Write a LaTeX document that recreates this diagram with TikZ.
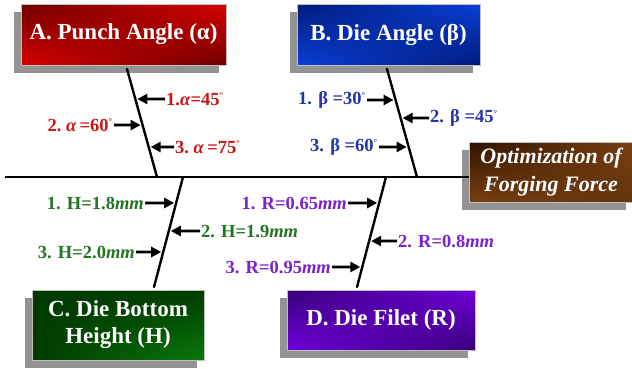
\documentclass[tikz,border=0pt]{standalone}
\usepackage{fontspec}
\setmainfont{Liberation Serif}
\usetikzlibrary{arrows.meta,shadows,calc,shadings}
\definecolor{redD}{HTML}{6E0000}\definecolor{redB}{HTML}{D80000}
\definecolor{bluD}{HTML}{001A7A}\definecolor{bluB}{HTML}{0A40D8}
\definecolor{grnD}{HTML}{003A00}\definecolor{grnB}{HTML}{0A7A0A}
\definecolor{purD}{HTML}{380078}\definecolor{purB}{HTML}{7000DC}
\definecolor{brnD}{HTML}{2E1200}\definecolor{brnB}{HTML}{7A4010}
\definecolor{redT}{HTML}{CC1515}\definecolor{bluT}{HTML}{2535A8}
\definecolor{grnT}{HTML}{237523}\definecolor{purT}{HTML}{7A22CC}
\tikzset{
  catbox/.style 2 args={draw=white!75!black, line width=0.8pt,
    upper left=#1, lower right=#1, upper right=#2, lower left=#2,
    drop shadow={shadow xshift=-7pt, shadow yshift=-8pt, fill=gray!85, opacity=1},
    text=white, font=\bfseries\fontsize{23}{27}\selectfont, align=center, inner sep=0pt},
  bone/.style={line width=2.4pt, line cap=round},
  lbl/.style={font=\bfseries\fontsize{18.5}{21}\selectfont, inner sep=1pt},
  arr/.style={line width=2.8pt, -{Triangle[length=10pt,width=10pt]}}
}
\newcommand{\dg}{\textsuperscript{\fontsize{9}{9}\selectfont °}}
\begin{document}
\begin{tikzpicture}[x=1pt,y=-1pt]
\useasboundingbox (0,0) rectangle (632,368);
% boxes
\node[catbox={redD}{redB}, minimum width=205pt, minimum height=61pt] (A) at (123.5,34.5) {A. Punch Angle (α)};
\node[catbox={bluD}{bluB}, minimum width=183pt, minimum height=61pt] (B) at (388.5,34.5) {B. Die Angle (β)};
\node[catbox={grnB}{grnD}, upper left=grnD, minimum width=172pt, minimum height=70pt] (C) at (118,325) {C. Die Bottom\\Height (H)};
\node[catbox={purD}{purB}, minimum width=188pt, minimum height=60pt] (D) at (381,320) {D. Die Filet (R)};
\node[catbox={brnD}{brnB}, lower right=brnB!80!black, font=\bfseries\itshape\fontsize{22}{28}\selectfont, minimum width=164pt, minimum height=60pt] (O) at (551,172) {Optimization of\\Forging Force};
% spine
\coordinate (S0) at (5,177);
\draw[line width=2pt] (S0) -- (S0 -| O.west);
% bones
\coordinate (a1) at (127,69); \coordinate (a2) at (157,177);
\coordinate (b1) at (387,69); \coordinate (b2) at (417,177);
\coordinate (c1) at (183,177); \coordinate (c2) at (154,287);
\coordinate (d1) at (386,177); \coordinate (d2) at (357,287);
\draw[bone] (a1) -- (a2);
\draw[bone] (b1) -- (b2);
\draw[bone] (c1) -- (c2);
\draw[bone] (d1) -- (d2);
% A labels
\node[lbl, text=redT, anchor=west] (A1) at (165,99) {1.\textit{α}=45\dg};
\node[lbl, text=redT, anchor=east] (A2) at (114,125) {2.\ \textit{α}\,=60\dg};
\node[lbl, text=redT, anchor=west] (A3) at (174,147) {3.\ \textit{α}\,=75\dg};
\draw[arr] (A1.west) -- ($(a1)!0.278!(a2)+(2,0)$);
\draw[arr] (A2.east) -- ($(a1)!0.519!(a2)-(2,0)$);
\draw[arr] (A3.west) -- ($(a1)!0.722!(a2)+(2,0)$);
% B labels
\node[lbl, text=bluT, anchor=east] (B1) at (367,100) {1. β =30\dg};
\node[lbl, text=bluT, anchor=west] (B2) at (429,118) {2. β =45\dg};
\node[lbl, text=bluT, anchor=east] (B3) at (379,147) {3. β =60\dg};
\draw[arr] (B1.east) -- ($(b1)!0.287!(b2)-(2,0)$);
\draw[arr] (B2.west) -- ($(b1)!0.454!(b2)+(2,0)$);
\draw[arr] (B3.east) -- ($(b1)!0.722!(b2)-(2,0)$);
% C labels
\node[lbl, text=grnT, anchor=east] (C1) at (145,203) {1. H=1.8\textit{mm}};
\node[lbl, text=grnT, anchor=west] (C2) at (200,231) {2. H=1.9\textit{mm}};
\node[lbl, text=grnT, anchor=east] (C3) at (136,252) {3. H=2.0\textit{mm}};
\draw[arr] (C1.east) -- ($(c1)!0.236!(c2)-(2,0)$);
\draw[arr] (C2.west) -- ($(c1)!0.491!(c2)+(2,0)$);
\draw[arr] (C3.east) -- ($(c1)!0.682!(c2)-(2,0)$);
% D labels
\node[lbl, text=purT, anchor=east] (D1) at (348,203) {1. R=0.65\textit{mm}};
\node[lbl, text=purT, anchor=west] (D2) at (397,241) {2. R=0.8\textit{mm}};
\node[lbl, text=purT, anchor=east] (D3) at (332,267) {3. R=0.95\textit{mm}};
\draw[arr] (D1.east) -- ($(d1)!0.236!(d2)-(2,0)$);
\draw[arr] (D2.west) -- ($(d1)!0.582!(d2)+(2,0)$);
\draw[arr] (D3.east) -- ($(d1)!0.818!(d2)-(2,0)$);
\end{tikzpicture}
\end{document}
